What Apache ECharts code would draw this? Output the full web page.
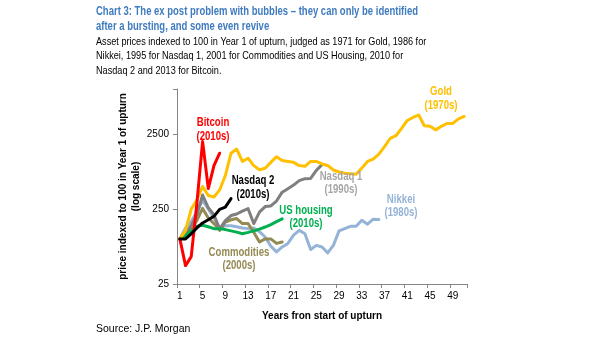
<!DOCTYPE html>
<html>
<head>
<meta charset="utf-8">
<script src="https://cdn.jsdelivr.net/npm/echarts@6/dist/echarts.min.js"></script>
<style>
  html, body { margin: 0; padding: 0; background: #ffffff; }
  #chart { width: 605px; height: 341px; }
</style>
</head>
<body>
<div id="chart"></div>
<script>
// Years from start of upturn (x categories)
const years = ['1','2','3','4','5','6','7','8','9','10','11','12','13','14','15','16','17','18','19','20',
  '21','22','23','24','25','26','27','28','29','30','31','32','33','34','35','36','37','38','39','40',
  '41','42','43','44','45','46','47','48','49','50','51'];

// Asset prices indexed to 100 in year 1 of the upturn
const gold = [100, 130, 250, 330, 500, 380, 362, 450, 700, 1390, 1580, 1080, 1190, 950, 835, 875, 1050, 1250, 1110, 1080,
  1050, 950, 930, 1080, 1080, 1000, 955, 830, 780, 750, 740, 730, 880, 1080, 1160, 1350, 1700, 2200, 2380, 2980,
  3800, 4170, 4500, 3230, 3180, 2850, 3180, 3470, 3470, 4000, 4300];
const nikkei = [100, 140, 170, 230, 330, 250, 190, 140, 150, 150, 145, 140, 137, 140, 125, 106, 80, 67, 78, 87,
  112, 130, 117, 72, 82, 78, 65, 82, 128, 137, 147, 147, 177, 157, 183, 181];
const nasdaq1 = [100, 120, 150, 210, 385, 260, 210, 135, 175, 205, 215, 235, 253, 160, 228, 270, 275, 320, 420, 467,
  522, 600, 636, 640, 820, 980];
const commodities = [100, 115, 137, 177, 255, 190, 160, 130, 168, 180, 187, 160, 160, 123, 91, 100, 100, 87, 91];
const usHousing = [100, 110, 128, 148, 152, 145, 137, 137, 133, 128, 123, 117, 122, 128, 135, 144, 155, 170, 185];
const nasdaq2 = [100, 100, 117, 140, 163, 180, 200, 248, 266, 345];
const bitcoin = [100, 44, 58, 300, 2000, 470, 950, 1390];

// Log-scale y axis: ticks every decade starting at 25
const yMin = 25;
const yMax = 10000;
const yTickLabels = ['25', '250', '2500'];

const SANS = '"Liberation Sans", Arial, sans-serif';

const chart = echarts.init(document.getElementById('chart'), null, { renderer: 'canvas' });

function line(name, data, color, z) {
  return {
    name: name,
    type: 'line',
    data: data,
    symbol: 'none',
    smooth: false,
    z: z,
    lineStyle: { color: color, width: 3, join: 'round', cap: 'round' },
    emphasis: { disabled: true }
  };
}

// Two-line series annotation, condensed horizontally
function note(text, x, y, color) {
  return {
    type: 'text',
    x: x,
    y: y,
    scaleX: 0.8,
    style: {
      text: text,
      fill: color,
      font: 'bold 12px ' + SANS,
      lineHeight: 13.5,
      align: 'center',
      verticalAlign: 'middle',
      textAlign: 'center',
      textVerticalAlign: 'middle'
    },
    z: 100
  };
}

const option = {
  animation: false,
  backgroundColor: '#ffffff',
  grid: { left: 177, right: 138, top: 89, bottom: 57, outerBoundsMode: 'none' },
  xAxis: {
    type: 'category',
    data: years,
    boundaryGap: true,
    name: 'Years fron start of upturn',
    nameLocation: 'middle',
    nameGap: 27,
    nameTextStyle: { fontFamily: SANS, fontWeight: 'bold', fontSize: 10, color: '#000000' },
    axisLine: { lineStyle: { color: '#868686', width: 1 } },
    axisTick: { show: true, interval: 3, length: 4, lineStyle: { color: '#868686' } },
    axisLabel: { interval: 3, margin: 7, fontFamily: SANS, fontSize: 10, color: '#000000' },
    splitLine: { show: false }
  },
  yAxis: {
    type: 'log',
    logBase: 10,
    min: yMin,
    max: yMax,
    interval: 1,
    name: 'price indexed to 100 in Year 1 of upturn\n(log scale)',
    nameLocation: 'middle',
    nameRotate: 90,
    nameGap: 34,
    nameTextStyle: { fontFamily: SANS, fontWeight: 'bold', fontSize: 10, lineHeight: 13, color: '#000000', align: 'center' },
    axisLine: { show: true, lineStyle: { color: '#868686', width: 1 } },
    axisTick: { show: true, length: 4, lineStyle: { color: '#868686' } },
    axisLabel: {
      margin: 8, fontFamily: SANS, fontSize: 10, color: '#000000',
      formatter: function (v) {
        const s = String(Math.round(v / 25) * 25);
        return yTickLabels.indexOf(s) >= 0 ? s : '';
      }
    },
    splitLine: { show: false }
  },
  series: [
    line('Nikkei', nikkei, '#95B3D7', 2),
    line('Commodities', commodities, '#948A54', 3),
    line('Nasdaq 1', nasdaq1, '#7F7F7F', 4),
    line('US housing', usHousing, '#00B050', 5),
    line('Gold', gold, '#FFC000', 6),
    line('Bitcoin', bitcoin, '#FF0000', 7),
    line('Nasdaq 2', nasdaq2, '#000000', 8)
  ],
  graphic: [
    {
      type: 'text', x: 96, y: 4.5, scaleX: 0.76,
      style: {
        text: 'Chart 3: The ex post problem with bubbles \u2013 they can only be identified\nafter a bursting, and some even revive',
        fill: '#3F7BBF', font: 'bold 12.5px ' + SANS, lineHeight: 15,
        verticalAlign: 'top', textVerticalAlign: 'top'
      }
    },
    {
      type: 'text', x: 96, y: 35.2, scaleX: 0.87,
      style: {
        text: 'Asset prices indexed to 100 in Year 1 of upturn, judged as 1971 for Gold, 1986 for\nNikkei, 1995 for Nasdaq 1, 2001 for Commodities and US Housing, 2010 for\nNasdaq 2 and 2013 for Bitcoin.',
        fill: '#000000', font: '10.5px ' + SANS, lineHeight: 14.2,
        verticalAlign: 'top', textVerticalAlign: 'top'
      }
    },
    {
      type: 'text', x: 96, y: 329,
      style: { text: 'Source: J.P. Morgan', fill: '#000000', font: '10.5px ' + SANS, verticalAlign: 'middle', textVerticalAlign: 'middle' }
    },
    note('Bitcoin\n(2010s)', 213, 129.5, '#FF0000'),
    note('Nasdaq 2\n(2010s)', 253, 187.5, '#000000'),
    note('US housing\n(2010s)', 306, 217, '#00B050'),
    note('Commodities\n(2000s)', 239, 259, '#948A54'),
    note('Nasdaq 1\n(1990s)', 341, 183, '#A6A6A6'),
    note('Nikkei\n(1980s)', 401, 206, '#95B3D7'),
    note('Gold\n(1970s)', 441, 98.5, '#FFC000')
  ]
};

chart.setOption(option);
</script>
</body>
</html>
